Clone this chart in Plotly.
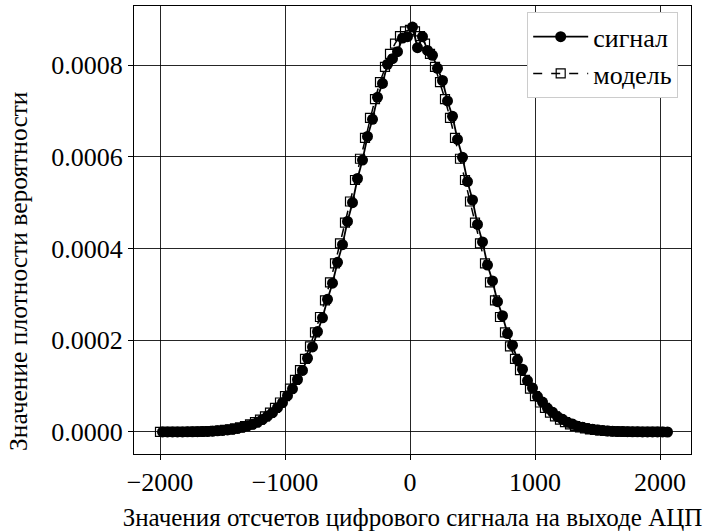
import plotly.graph_objects as go

# Signal: histogram bin centres (ADC sample values) and measured density (x1e-6)
signal_x = [
    -1980, -1940, -1900, -1860, -1820, -1780, -1740, -1700, -1660, -1620,
    -1580, -1540, -1500, -1460, -1420, -1380, -1340, -1300, -1260, -1220,
    -1180, -1140, -1100, -1060, -1020, -980, -940, -900, -860, -820,
    -780, -740, -700, -660, -620, -580, -540, -500, -460, -420,
    -380, -340, -300, -260, -220, -180, -140, -100, -60, -20,
    20, 60, 100, 140, 180, 220, 260, 300, 340, 380,
    420, 460, 500, 540, 580, 620, 660, 700, 740, 780,
    820, 860, 900, 940, 980, 1020, 1060, 1100, 1140, 1180,
    1220, 1260, 1300, 1340, 1380, 1420, 1460, 1500, 1540, 1580,
    1620, 1660, 1700, 1740, 1780, 1820, 1860, 1900, 1940, 1980,
    2020, 2060,
]
signal_density_e6 = [
    0.1, 0.1, 0.1, 0.2, 0.2, 0.3, 0.5, 0.7, 1.0, 1.3,
    1.8, 2.5, 3.3, 4.4, 5.9, 7.7, 10.1, 13.5, 16.8, 21.0,
    27.3, 34.6, 42.0, 53.1, 64.0, 79.2, 94.1, 114.5, 134.2, 160.8,
    185.5, 218.9, 249.0, 289.3, 324.5, 370.1, 408.6, 459.2, 500.1, 552.8,
    593.0, 644.5, 681.8, 729.9, 760.2, 802.0, 814.0, 829.5, 859.0, 862.0,
    883.0, 838.0, 862.0, 832.0, 821.5, 793.0, 766.5, 722.0, 688.3, 637.9,
    599.1, 546.0, 505.9, 452.7, 414.5, 364.0, 329.4, 284.2, 253.5, 214.6,
    189.2, 157.3, 136.8, 112.0, 95.9, 77.3, 65.2, 51.6, 43.1, 33.4,
    27.6, 21.0, 17.2, 12.7, 10.3, 7.5, 6.0, 4.3, 3.4, 2.4,
    1.8, 1.3, 1.0, 0.7, 0.5, 0.3, 0.2, 0.2, 0.1, 0.1,
    0.1, 0.0,
]

# Model: evaluated at bin edges (x1e-6)
model_x = [
    -2000, -1960, -1920, -1880, -1840, -1800, -1760, -1720, -1680, -1640,
    -1600, -1560, -1520, -1480, -1440, -1400, -1360, -1320, -1280, -1240,
    -1200, -1160, -1120, -1080, -1040, -1000, -960, -920, -880, -840,
    -800, -760, -720, -680, -640, -600, -560, -520, -480, -440,
    -400, -360, -320, -280, -240, -200, -160, -120, -80, -40,
    0, 40, 80, 120, 160, 200, 240, 280, 320, 360,
    400, 440, 480, 520, 560, 600, 640, 680, 720, 760,
    800, 840, 880, 920, 960, 1000, 1040, 1080, 1120, 1160,
    1200, 1240, 1280, 1320, 1360, 1400, 1440, 1480, 1520, 1560,
    1600, 1640, 1680, 1720, 1760, 1800, 1840, 1880, 1920, 1960,
    2000, 2040,
]
model_density_e6 = [
    0.1, 0.1, 0.1, 0.2, 0.2, 0.3, 0.5, 0.7, 1.0, 1.3,
    1.8, 2.5, 3.3, 4.4, 5.9, 7.7, 10.1, 13.0, 16.8, 21.4,
    27.1, 34.0, 42.4, 52.4, 64.3, 78.4, 94.7, 113.6, 135.1, 159.5,
    186.9, 217.3, 250.8, 287.1, 326.1, 367.6, 411.2, 456.4, 502.7, 549.5,
    595.9, 641.3, 684.9, 725.7, 763.1, 796.2, 824.4, 847.0, 863.5, 873.6,
    877.0, 873.6, 863.5, 847.0, 824.4, 796.2, 763.1, 725.7, 684.9, 641.3,
    595.9, 549.5, 502.7, 456.4, 411.2, 367.6, 326.1, 287.1, 250.8, 217.3,
    186.9, 159.5, 135.1, 113.6, 94.7, 78.4, 64.3, 52.4, 42.4, 34.0,
    27.1, 21.4, 16.8, 13.0, 10.1, 7.7, 5.9, 4.4, 3.3, 2.5,
    1.8, 1.3, 1.0, 0.7, 0.5, 0.3, 0.2, 0.2, 0.1, 0.1,
    0.1, 0.0,
]

signal_y = [v * 1e-6 for v in signal_density_e6]
model_y = [v * 1e-6 for v in model_density_e6]

x_ticks = [-2000, -1000, 0, 1000, 2000]
y_ticks = [0.0, 0.0002, 0.0004, 0.0006, 0.0008]

FONT = "Liberation Serif, Times New Roman, serif"
FS = 26

fig = go.Figure()
fig.add_trace(go.Scatter(
    x=signal_x, y=signal_y, name="сигнал", mode="lines+markers",
    line=dict(color="black", width=1.8),
    marker=dict(symbol="circle", size=11, color="black"),
))
fig.add_trace(go.Scatter(
    x=model_x, y=model_y, name="модель", mode="lines+markers",
    line=dict(color="black", width=1.5, dash="dash"),
    marker=dict(symbol="square-open", size=9, color="black", line=dict(width=1.2, color="black")),
))

axis_common = dict(
    showline=True, mirror=True, linecolor="black", linewidth=1,
    showgrid=True, gridcolor="rgba(0,0,0,0.85)", gridwidth=1,
    ticks="outside", ticklen=5, tickcolor="black", tickwidth=1,
    zeroline=False, tickfont=dict(family=FONT, size=FS, color="black"),
)

fig.update_xaxes(
    range=[-2208, 2248], tickvals=x_ticks,
    title=dict(text="Значения отсчетов цифрового сигнала на выходе АЦП",
               font=dict(family=FONT, size=25, color="black"), standoff=12),
    **axis_common,
)
fig.update_yaxes(
    range=[-0.000048, 0.000929], tickvals=y_ticks, tickformat=".4f",
    **axis_common,
)

# y-axis title placed as rotated text (left edge of the figure)
fig.add_annotation(
    text="Значение плотности вероятности",
    xref="paper", yref="paper",
    x=(18 - 134) / 557, y=(458 - 273) / 453,
    xanchor="center", yanchor="middle",
    textangle=-90, showarrow=False,
    font=dict(family=FONT, size=25.5, color="black"),
)

fig.update_layout(
    width=707, height=532,
    margin=dict(l=134, r=16, t=5, b=74),
    paper_bgcolor="white", plot_bgcolor="white",
    font=dict(family=FONT, size=FS, color="black"),
    showlegend=True,
    legend=dict(
        x=0.977, y=0.986, xanchor="right", yanchor="top",
        bgcolor="white", bordercolor="#cccccc", borderwidth=1,
        font=dict(family=FONT, size=FS, color="black"),
        itemwidth=55, tracegroupgap=0,
    ),
)

fig.write_html("out.html")
